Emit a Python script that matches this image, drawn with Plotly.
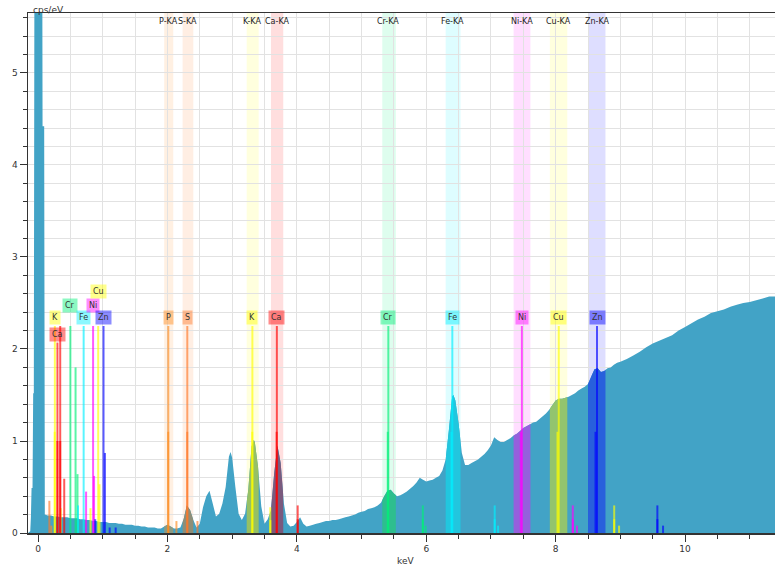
import plotly.graph_objects as go

# ---------------- data ----------------
spectrum_kev = [
    -0.155, -0.12, -0.11, -0.10, -0.085, -0.075, -0.065, -0.055, 0.065, 0.07, 0.095, 0.105,
    0.15, 0.20, 0.25, 0.30, 0.35, 0.40, 0.45, 0.50, 0.55, 0.60, 0.65, 0.70, 0.75, 0.80,
    0.85, 0.90, 0.95, 1.00, 1.05, 1.10, 1.15, 1.20, 1.25, 1.30, 1.35, 1.40, 1.45, 1.50,
    1.55, 1.60, 1.65, 1.70, 1.75, 1.80, 1.85, 1.90, 1.95, 2.00, 2.05, 2.10, 2.15, 2.20,
    2.25, 2.30, 2.35, 2.40, 2.45, 2.50, 2.55, 2.60, 2.65, 2.70, 2.75, 2.80, 2.85, 2.90,
    2.95, 2.975, 3.00, 3.05, 3.10, 3.15, 3.20, 3.25, 3.30, 3.335, 3.35, 3.40, 3.45, 3.50,
    3.55, 3.60, 3.65, 3.70, 3.75, 3.80, 3.85, 3.90, 3.95, 4.00, 4.05, 4.10, 4.15, 4.20,
    4.25, 4.30, 4.35, 4.40, 4.45, 4.50, 4.55, 4.60, 4.65, 4.70, 4.75, 4.80, 4.85, 4.90,
    4.95, 5.00, 5.05, 5.10, 5.15, 5.20, 5.25, 5.30, 5.35, 5.40, 5.45, 5.50, 5.55, 5.60,
    5.65, 5.70, 5.75, 5.80, 5.85, 5.90, 5.95, 6.00, 6.05, 6.10, 6.15, 6.20, 6.25, 6.30,
    6.35, 6.40, 6.42, 6.45, 6.50, 6.55, 6.60, 6.65, 6.70, 6.75, 6.80, 6.85, 6.90, 6.95,
    7.00, 7.05, 7.10, 7.15, 7.20, 7.25, 7.30, 7.35, 7.40, 7.45, 7.50, 7.55, 7.60, 7.65,
    7.70, 7.75, 7.80, 7.85, 7.90, 7.95, 8.00, 8.05, 8.10, 8.15, 8.20, 8.25, 8.30, 8.35,
    8.40, 8.45, 8.50, 8.55, 8.60, 8.65, 8.70, 8.75, 8.80, 8.85, 8.90, 8.95, 9.00, 9.10,
    9.20, 9.30, 9.40, 9.50, 9.60, 9.70, 9.80, 9.90, 10.00, 10.10, 10.20, 10.30, 10.40,
    10.50, 10.60, 10.70, 10.80, 10.90, 11.00, 11.10, 11.20, 11.30, 11.40,
]
spectrum_cps = [
    0.00, 0.02, 0.17, 0.49, 0.49, 1.52, 1.52, 6.50, 6.50, 4.42, 4.42, 0.20,
    0.19, 0.19, 0.18, 0.18, 0.17, 0.17, 0.17, 0.16, 0.16, 0.16, 0.15, 0.15, 0.14, 0.14,
    0.13, 0.13, 0.12, 0.12, 0.12, 0.11, 0.11, 0.11, 0.10, 0.10, 0.09, 0.09, 0.09, 0.08,
    0.08, 0.07, 0.07, 0.06, 0.06, 0.06, 0.05, 0.05, 0.07, 0.09, 0.07, 0.05, 0.05, 0.06,
    0.15, 0.30, 0.25, 0.14, 0.06, 0.10, 0.28, 0.40, 0.46, 0.32, 0.18, 0.21, 0.32, 0.50,
    0.83, 0.88, 0.82, 0.50, 0.21, 0.14, 0.21, 0.47, 0.94, 1.01, 0.99, 0.72, 0.29, 0.10,
    0.15, 0.25, 0.65, 0.95, 0.76, 0.32, 0.11, 0.07, 0.08, 0.12, 0.17, 0.10, 0.07, 0.08,
    0.09, 0.10, 0.11, 0.12, 0.13, 0.13, 0.14, 0.14, 0.15, 0.16, 0.17, 0.18, 0.19, 0.20,
    0.22, 0.23, 0.24, 0.26, 0.27, 0.28, 0.30, 0.33, 0.40, 0.46, 0.47, 0.43, 0.40, 0.41,
    0.43, 0.45, 0.48, 0.51, 0.55, 0.60, 0.58, 0.56, 0.57, 0.58, 0.60, 0.62, 0.68, 0.80,
    1.12, 1.48, 1.50, 1.44, 1.19, 0.87, 0.74, 0.74, 0.76, 0.78, 0.80, 0.83, 0.86, 0.90,
    0.95, 1.04, 1.01, 0.99, 0.99, 1.01, 1.03, 1.06, 1.08, 1.11, 1.14, 1.16, 1.18, 1.20,
    1.21, 1.24, 1.27, 1.30, 1.34, 1.39, 1.44, 1.46, 1.46, 1.47, 1.48, 1.50, 1.52, 1.55,
    1.57, 1.59, 1.62, 1.70, 1.78, 1.79, 1.75, 1.76, 1.79, 1.80, 1.83, 1.85, 1.86, 1.89,
    1.93, 1.97, 2.02, 2.06, 2.09, 2.12, 2.15, 2.20, 2.24, 2.28, 2.32, 2.35, 2.39,
    2.41, 2.43, 2.46, 2.48, 2.50, 2.51, 2.53, 2.55, 2.57, 2.57,
]

# regions of interest (K-alpha windows)
roi_element = ["P", "S", "K", "Ca", "Cr", "Fe", "Ni", "Cu", "Zn"]
roi_ka_kev = [2.013, 2.307, 3.313, 3.691, 5.414, 6.403, 7.478, 8.048, 8.639]
roi_lo_kev = [1.95, 2.235, 3.225, 3.60, 5.32, 6.30, 7.35, 7.91, 8.50]
roi_hi_kev = [2.09, 2.40, 3.41, 3.79, 5.53, 6.53, 7.61, 8.18, 8.77]

# element marker lines
line_element = [
    "P", "P", "P", "S", "S", "S",
    "K", "K", "K", "K", "Ca", "Ca", "Ca", "Ca",
    "Cr", "Cr", "Cr", "Cr", "Cr", "Fe", "Fe", "Fe", "Fe", "Fe",
    "Ni", "Ni", "Ni", "Ni", "Ni", "Cu", "Cu", "Cu", "Cu", "Cu",
    "Zn", "Zn", "Zn", "Zn", "Zn",
    # L lines
    "S", "P", "K", "K", "K", "Ca", "Ca", "Ca", "Ca", "Ca",
    "Cr", "Cr", "Cr", "Fe", "Fe", "Ni", "Ni", "Ni", "Cu", "Cu", "Cu",
    "Zn", "Zn", "Zn", "Zn", "Zn",
]
line_kev = [
    2.013, 2.012, 2.139, 2.307, 2.306, 2.464,
    3.313, 3.311, 3.590, 3.590, 3.691, 3.688, 4.013, 4.013,
    5.414, 5.405, 5.947, 5.947, 5.990, 6.403, 6.390, 7.058, 7.058, 7.110,
    7.478, 7.461, 8.265, 8.265, 8.330, 8.048, 8.028, 8.905, 8.905, 8.980,
    8.639, 8.616, 9.572, 9.572, 9.660,
    0.175, 0.205, 0.260, 0.258, 0.350, 0.300, 0.300, 0.343, 0.343, 0.405,
    0.500, 0.580, 0.610, 0.705, 0.618, 0.851, 0.866, 0.743, 0.930, 0.950, 0.811,
    1.012, 1.034, 0.884, 1.107, 1.200,
]
line_height = [
    2.25, 1.10, 0.13, 2.25, 1.10, 0.13,
    2.25, 1.10, 0.28, 0.14, 2.25, 1.10, 0.30, 0.15,
    2.25, 1.10, 0.30, 0.15, 0.08, 2.25, 1.10, 0.30, 0.15, 0.08,
    2.25, 1.10, 0.30, 0.15, 0.08, 2.25, 1.10, 0.30, 0.15, 0.08,
    2.25, 1.10, 0.30, 0.15, 0.08,
    0.35, 0.08, 2.25, 1.10, 0.27, 2.07, 1.00, 2.25, 1.00, 0.59,
    2.25, 1.80, 0.64, 2.25, 0.30, 2.25, 0.62, 0.45, 2.25, 0.53, 0.27,
    2.25, 0.87, 0.15, 0.06, 0.06,
]

# label boxes
label_element = ["P", "S", "K", "Ca", "Cr", "Fe", "Ni", "Cu", "Zn",
                 "K", "Ca", "Cr", "Fe", "Ni", "Cu", "Zn"]
label_kev = [2.013, 2.307, 3.313, 3.691, 5.414, 6.403, 7.478, 8.048, 8.639,
             0.260, 0.302, 0.500, 0.705, 0.851, 0.930, 1.012]
label_cps = [2.337, 2.337, 2.337, 2.337, 2.337, 2.337, 2.337, 2.337, 2.337,
             2.337, 2.163, 2.478, 2.337, 2.478, 2.620, 2.337]

# ---------------- style ----------------
XMIN, XMAX = -0.155, 11.39
YMIN, YMAX = 0.0, 5.652
FONT = "DejaVu Sans"
SPEC_COLOR = "#42A3C6"
EL_RGB = {
    "P": (255, 140, 30), "S": (255, 120, 40), "K": (255, 255, 0), "Ca": (255, 0, 0),
    "Cr": (0, 240, 120), "Fe": (0, 240, 255), "Ni": (255, 0, 255), "Cu": (255, 255, 0),
    "Zn": (0, 0, 255),
}
ROI_FILL = {
    "P": "#8C9A82", "S": "#8E8E78", "K": "#96C064", "Ca": "#7A5A7E", "Cr": "#2EBE8E",
    "Fe": "#22C6DE", "Ni": "#9560DC", "Cu": "#92C46E", "Zn": "#2860DC",
}


def rgba(el, a):
    r, g, b = EL_RGB[el]
    return f"rgba({r},{g},{b},{a})"


fig = go.Figure()

# main spectrum
fig.add_trace(go.Scatter(
    x=spectrum_kev, y=spectrum_cps, xaxis="x", yaxis="y", mode="none",
    fill="tozeroy", fillcolor=SPEC_COLOR, hoverinfo="skip", showlegend=False))

layout_axes = {
    "yaxis2": dict(domain=[0, 1], range=[YMIN, YMAX], autorange=False, visible=False,
                   showgrid=False, zeroline=False, anchor="x", fixedrange=True),
}
shapes = []
annotations = []
span = XMAX - XMIN
for i, el in enumerate(roi_element):
    n = i + 2
    lo, hi = roi_lo_kev[i], roi_hi_kev[i]
    layout_axes[f"xaxis{n}"] = dict(
        domain=[(lo - XMIN) / span, (hi - XMIN) / span], range=[lo, hi], autorange=False,
        visible=False, showgrid=False, zeroline=False, anchor="y2", fixedrange=True)
    fig.add_trace(go.Scatter(
        x=spectrum_kev, y=spectrum_cps, xaxis=f"x{n}", yaxis="y2", mode="none",
        fill="tozeroy", fillcolor=ROI_FILL[el], hoverinfo="skip", showlegend=False))
    shapes.append(dict(type="rect", xref="x", yref="paper", x0=lo, x1=hi, y0=0, y1=1,
                       fillcolor=rgba(el, 0.13), line=dict(width=0), layer="below"))
    annotations.append(dict(x=roi_ka_kev[i], y=5.56, xref="x", yref="y", text=f"{el}-KA",
                            showarrow=False, font=dict(family=FONT, size=8, color="#222"),
                            xanchor="center", yanchor="middle"))

# marker lines on top layer
layout_axes["xaxis11"] = dict(domain=[0, 1], range=[XMIN, XMAX], autorange=False,
                              visible=False, showgrid=False, zeroline=False,
                              anchor="y2", fixedrange=True)
for el, kev, h in zip(line_element, line_kev, line_height):
    fig.add_trace(go.Scatter(
        x=[kev, kev], y=[0, h], xaxis="x11", yaxis="y2", mode="lines",
        line=dict(color=rgba(el, 0.65), width=2), hoverinfo="skip", showlegend=False))

for el, kev, yv in zip(label_element, label_kev, label_cps):
    annotations.append(dict(x=kev, y=yv, xref="x", yref="y", text=el, showarrow=False,
                            font=dict(family=FONT, size=8, color="#333"),
                            bgcolor=rgba(el, 0.45), borderpad=2,
                            xanchor="center", yanchor="middle"))

annotations.append(dict(x=0.004, y=1.0067, xref="paper", yref="paper", text="cps/eV",
                        showarrow=False, xanchor="left", yanchor="middle",
                        font=dict(family=FONT, size=9, color="#333")))
annotations.append(dict(x=0.505, y=-0.054, xref="paper", yref="paper", text="keV",
                        showarrow=False, xanchor="center", yanchor="middle",
                        font=dict(family=FONT, size=9, color="#333")))

grid = "#e2e2e2"
fig.update_layout(
    width=775, height=567,
    margin=dict(l=28, r=0, t=13, b=34, autoexpand=False),
    paper_bgcolor="white", plot_bgcolor="rgba(0,0,0,0)",
    showlegend=False,
    font=dict(family=FONT, size=9, color="#333"),
    xaxis=dict(domain=[0, 1], range=[XMIN, XMAX], autorange=False, dtick=2, tick0=0,
               ticks="outside", ticklen=7, tickwidth=1, tickcolor="#333",
               showline=True, linecolor="#333", linewidth=1.5, mirror=True,
               showgrid=True, gridcolor=grid, gridwidth=1, zeroline=False,
               minor=dict(dtick=0.5, tick0=0, ticks="outside", ticklen=4, tickcolor="#333",
                          showgrid=True, gridcolor=grid, gridwidth=1),
               tickfont=dict(family=FONT, size=9, color="#333"), fixedrange=True),
    yaxis=dict(range=[YMIN, YMAX], autorange=False, dtick=1, tick0=0,
               ticks="outside", ticklen=7, tickwidth=1, tickcolor="#333",
               showline=True, linecolor="#333", linewidth=1.5,
               showgrid=True, gridcolor=grid, gridwidth=1, zeroline=False,
               minor=dict(dtick=0.2, tick0=0, ticks="outside", ticklen=4, tickcolor="#333",
                          showgrid=True, gridcolor=grid, gridwidth=1),
               tickfont=dict(family=FONT, size=9, color="#333"), fixedrange=True),
    shapes=shapes,
    annotations=annotations,
    **layout_axes,
)

fig.write_html(
    "out.html",
    config={"displayModeBar": False, "staticPlot": True},
    post_script="document.body.style.margin='0';document.body.style.overflow='hidden';",
)
